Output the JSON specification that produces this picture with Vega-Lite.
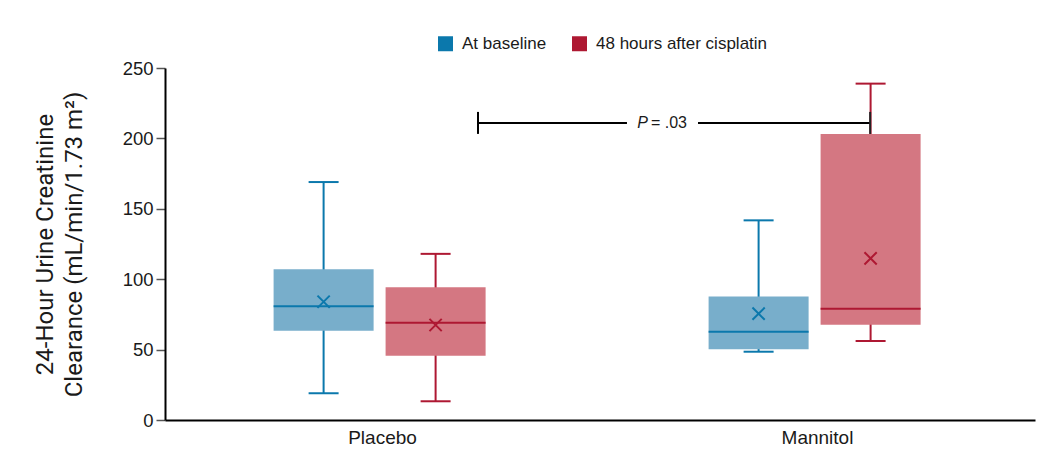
{
  "$schema": "https://vega.github.io/schema/vega-lite/v6.json",
  "width": 870,
  "height": 352,
  "autosize": "none",
  "padding": {"left": 165, "top": 68, "right": 8, "bottom": 38},
  "background": "white",
  "config": {"view": {"stroke": null}, "font": "Liberation Sans"},
  "datasets": {
    "boxes": [
      {"group": "Placebo", "series": "At baseline", "lo": 19, "q1": 63.4, "median": 80.7, "q3": 107, "hi": 169, "mean": 84},
      {"group": "Placebo", "series": "48 hours after cisplatin", "lo": 13.3, "q1": 45.7, "median": 69.1, "q3": 94.2, "hi": 118, "mean": 67.5},
      {"group": "Mannitol", "series": "At baseline", "lo": 48.5, "q1": 50.2, "median": 62.7, "q3": 87.8, "hi": 141.8, "mean": 75.5},
      {"group": "Mannitol", "series": "48 hours after cisplatin", "lo": 56.1, "q1": 67.7, "median": 79, "q3": 203.1, "hi": 238.9, "mean": 114.8}
    ],
    "annot": [
      {"from": "Placebo", "to": "Mannitol", "p": 211, "pLabel": "P", "valueLabel": "= .03"}
    ]
  },
  "encoding": {
    "x": {
      "field": "group",
      "type": "nominal",
      "title": null,
      "scale": {"domain": ["Placebo", "Mannitol"], "paddingInner": 0, "paddingOuter": 0},
      "axis": {
        "labelAngle": 0,
        "labelFontSize": 19,
        "labelColor": "#1a1a1a",
        "labelPadding": 8,
        "ticks": false,
        "domainColor": "#000000",
        "domainWidth": 2
      }
    },
    "y": {
      "type": "quantitative",
      "scale": {"domain": [0, 250], "nice": false}
    }
  },
  "layer": [
    {
      "data": {"name": "boxes"},
      "mark": {"type": "rule", "strokeWidth": 2},
      "encoding": {
        "xOffset": {
          "field": "series",
          "type": "nominal",
          "scale": {"domain": ["At baseline", "48 hours after cisplatin"], "paddingInner": 0.107, "paddingOuter": 0.9955, "align": 0.487}
        },
        "y": {
          "field": "lo",
          "type": "quantitative",
          "axis": {
            "values": [0, 50, 100, 150, 200, 250],
            "grid": false,
            "labelFontSize": 18.5,
            "labelColor": "#1a1a1a",
            "labelPadding": 3,
            "tickSize": 9,
            "tickColor": "#555555",
            "tickWidth": 1.5,
            "domainColor": "#000000",
            "domainWidth": 2,
            "title": ["24-Hour Urine Creatinine", "Clearance (mL/min/1.73 m²)"],
            "titleFont": "Roboto",
            "titleFontSize": 24,
            "titleFontWeight": "normal",
            "titleColor": "#1a1a1a",
            "titleLineHeight": 29,
            "titlePadding": 36
          }
        },
        "y2": {"field": "hi"},
        "color": {
          "field": "series",
          "type": "nominal",
          "scale": {"domain": ["At baseline", "48 hours after cisplatin"], "range": ["#0B78AC", "#AE1832"]},
          "legend": {
            "orient": "none",
            "legendX": 272,
            "legendY": -33,
            "direction": "horizontal",
            "title": null,
            "symbolType": "square",
            "symbolSize": 225,
            "symbolStrokeWidth": 0,
            "symbolOpacity": 1,
            "labelFontSize": 17,
            "labelColor": "#1a1a1a",
            "labelOffset": 8,
            "labelLimit": 0,
            "columnPadding": 24,
            "encode": {"symbols": {"update": {"fill": {"scale": "color", "field": "value"}, "fillOpacity": {"value": 1}, "strokeWidth": {"value": 0}}}}
          }
        }
      }
    },
    {
      "data": {"name": "boxes"},
      "mark": {"type": "bar"},
      "encoding": {
        "xOffset": {"field": "series", "type": "nominal"},
        "y": {"field": "q1", "type": "quantitative"},
        "y2": {"field": "q3"},
        "fill": {
          "field": "series",
          "type": "nominal",
          "scale": {"domain": ["At baseline", "48 hours after cisplatin"], "range": ["#78AECB", "#D47782"]},
          "legend": null
        }
      }
    },
    {
      "data": {"name": "boxes"},
      "mark": {"type": "tick", "thickness": 2, "size": 30, "opacity": 1},
      "encoding": {
        "xOffset": {"field": "series", "type": "nominal"},
        "y": {"field": "hi", "type": "quantitative"},
        "color": {"field": "series", "type": "nominal", "legend": null}
      }
    },
    {
      "data": {"name": "boxes"},
      "mark": {"type": "tick", "thickness": 2, "size": 30, "opacity": 1},
      "encoding": {
        "xOffset": {"field": "series", "type": "nominal"},
        "y": {"field": "lo", "type": "quantitative"},
        "color": {"field": "series", "type": "nominal", "legend": null}
      }
    },
    {
      "data": {"name": "boxes"},
      "mark": {"type": "tick", "thickness": 2, "size": 100, "opacity": 1},
      "encoding": {
        "xOffset": {"field": "series", "type": "nominal"},
        "y": {"field": "median", "type": "quantitative"},
        "color": {"field": "series", "type": "nominal", "legend": null}
      }
    },
    {
      "data": {"name": "boxes"},
      "mark": {"type": "point", "shape": "M-1,-1L1,1M-1,1L1,-1", "size": 150, "strokeWidth": 2, "filled": false, "opacity": 1},
      "encoding": {
        "xOffset": {"field": "series", "type": "nominal"},
        "y": {"field": "mean", "type": "quantitative"},
        "color": {"field": "series", "type": "nominal", "legend": null}
      }
    },
    {
      "data": {"name": "annot"},
      "mark": {"type": "rule", "strokeWidth": 2, "color": "#000000"},
      "encoding": {
        "x": {"field": "from", "type": "nominal", "bandPosition": 0.7195},
        "x2": {"field": "to", "bandPosition": 0.062},
        "y": {"field": "p", "type": "quantitative"}
      }
    },
    {
      "data": {"name": "annot"},
      "mark": {"type": "rule", "strokeWidth": 2, "color": "#000000"},
      "encoding": {
        "x": {"field": "to", "type": "nominal", "bandPosition": 0.2253},
        "x2": {"field": "to", "bandPosition": 0.621},
        "y": {"field": "p", "type": "quantitative"}
      }
    },
    {
      "data": {"name": "annot"},
      "mark": {"type": "tick", "orient": "vertical", "size": 22, "thickness": 2, "color": "#000000", "opacity": 1},
      "encoding": {
        "x": {"field": "from", "type": "nominal", "bandPosition": 0.7195},
        "y": {"field": "p", "type": "quantitative"}
      }
    },
    {
      "data": {"name": "annot"},
      "mark": {"type": "tick", "orient": "vertical", "size": 22, "thickness": 2, "color": "#222222", "opacity": 1},
      "encoding": {
        "x": {"field": "to", "type": "nominal", "bandPosition": 0.621},
        "y": {"field": "p", "type": "quantitative"}
      }
    },
    {
      "data": {"name": "annot"},
      "mark": {"type": "text", "align": "right", "baseline": "middle", "fontSize": 16, "fontStyle": "italic", "color": "#1a1a1a"},
      "encoding": {
        "x": {"field": "to", "type": "nominal", "bandPosition": 0.110},
        "y": {"field": "p", "type": "quantitative"},
        "text": {"field": "pLabel"}
      }
    },
    {
      "data": {"name": "annot"},
      "mark": {"type": "text", "align": "left", "baseline": "middle", "fontSize": 16, "color": "#1a1a1a"},
      "encoding": {
        "x": {"field": "to", "type": "nominal", "bandPosition": 0.117},
        "y": {"field": "p", "type": "quantitative"},
        "text": {"field": "valueLabel"}
      }
    }
  ]
}
